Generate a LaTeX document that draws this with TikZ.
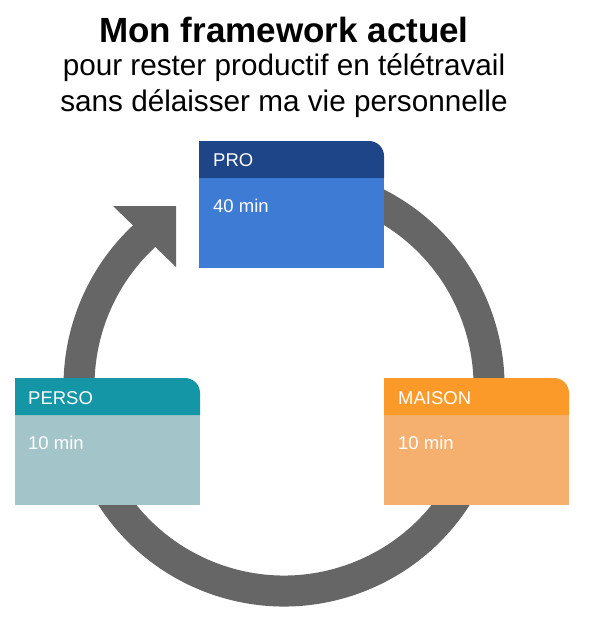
\documentclass[tikz,border=0pt]{standalone}
\usepackage{fontspec}
\setmainfont{Liberation Sans}
\definecolor{ringgray}{HTML}{666666}
\definecolor{prohead}{HTML}{1F4589}
\definecolor{probody}{HTML}{3E7BD5}
\definecolor{persohead}{HTML}{1496A6}
\definecolor{persobody}{HTML}{A3C4C9}
\definecolor{maisonhead}{HTML}{FC9A29}
\definecolor{maisonbody}{HTML}{F5B06F}
\tikzset{
  px/.style={x=1pt,y=-1pt},
  boxtext/.style={anchor=base west,inner sep=0pt,text=white,font=\fontsize{18.5}{22}\selectfont},
  titletext/.style={anchor=base,inner sep=0pt,font=\bfseries\fontsize{35}{40}\selectfont},
  subtext/.style={anchor=base,inner sep=0pt,font=\fontsize{29.7}{34}\selectfont},
}
\newcommand{\catbox}[4]{%
  \fill[#4] (#1,#2+37) rectangle (#1+185,#2+127);
  \fill[#3] (#1,#2+37) -- (#1,#2) -- (#1+170,#2) arc[start angle=-90,end angle=0,radius=15] -- (#1+185,#2+37) -- cycle;
}
\begin{document}
\begin{tikzpicture}[px]
\useasboundingbox[fill=white] (0,0) rectangle (589,622);
% ring
\draw[ringgray,line width=31pt] (284,386) ++(-112:205) arc[start angle=-112,end angle=229,radius=205];
% arrow head
\fill[ringgray] (113,206) -- (176,206) -- (176,267) -- cycle;
% boxes
\catbox{199}{141}{prohead}{probody}
\catbox{15}{378}{persohead}{persobody}
\catbox{384}{378}{maisonhead}{maisonbody}
% texts
\node[titletext] (title) at (284,42) {Mon framework actuel};
\node[subtext] (sub1) at (284,75) {pour rester productif en télétravail};
\node[subtext] (sub2) at (284,111) {sans délaisser ma vie personnelle};
\node[boxtext] (pro) at (213,166) {PRO};
\node[boxtext] (protime) at (213,212) {40 min};
\node[boxtext] (perso) at (28,404) {PERSO};
\node[boxtext] (persotime) at (28,449) {10 min};
\node[boxtext] (maison) at (398,404) {MAISON};
\node[boxtext] (maisontime) at (398,449) {10 min};
\end{tikzpicture}
\end{document}
